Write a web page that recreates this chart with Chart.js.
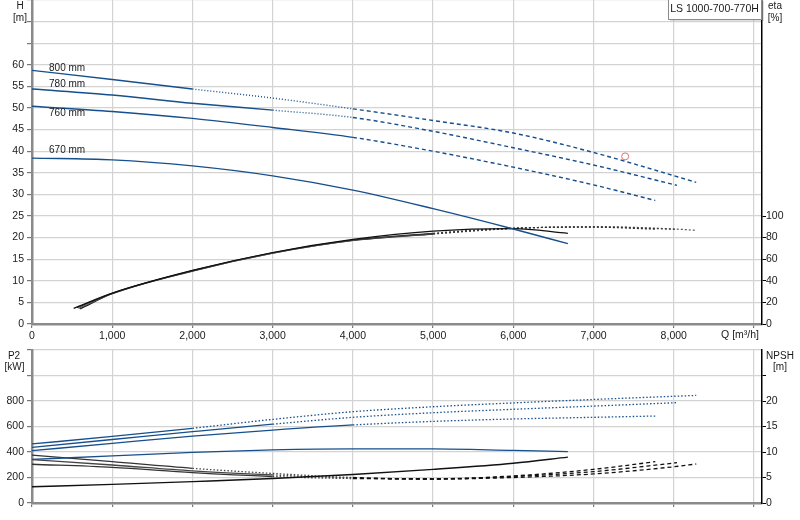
<!DOCTYPE html>
<html><head><meta charset="utf-8">
<script src="https://cdn.jsdelivr.net/npm/chart.js@4"></script>
<style>
html,body{margin:0;padding:0;background:#fff;}
#wrap{position:relative;width:800px;height:520px;overflow:hidden;background:#fff;}
#c1{position:absolute;left:0;top:-5px;}
#c2{position:absolute;left:0;top:340px;}
</style></head><body>
<div id="wrap"><canvas id="c1" width="800" height="350"></canvas><canvas id="c2" width="800" height="180"></canvas></div>
<script>
// ---------- data ----------
const qTicks = [0,1000,2000,3000,4000,5000,6000,7000,8000];
const qGrid = [0,1000,2000,3000,4000,5000,6000,7000,8000,9000];
const hTicks = [0,5,10,15,20,25,30,35,40,45,50,55,60];
const hGrid = [0,5,10,15,20,25,30,35,40,45,50,55,60,65,70,75];
const etaTicks = [0,20,40,60,80,100];
const p2Ticks = [0,200,400,600,800];
const p2Grid = [0,200,400,600,800,1000,1200];
const npshTicks = [0,5,10,15,20];
const npshGrid = [0,5,10,15,20,25];

const diameters = ['800 mm','780 mm','760 mm','670 mm'];
const labelH = [59.1,55.4,48.7,40.2];

// Head curves
const qH800 = [0,1000,2000,3000,4000,5000,6000,7000,8280];
const h800  = [58.7,56.6,54.4,52.3,49.8,47.1,44.2,39.7,32.8];
const qH780 = [0,1000,2000,3000,4000,5000,6000,7000,8040];
const h780  = [54.4,53.0,51.1,49.5,47.8,44.6,40.8,36.8,32.1];
const qH760 = [0,1000,2000,3000,4000,5000,6000,7000,7770];
const h760  = [50.4,49.2,47.6,45.5,43.2,40.0,36.3,32.2,28.6];
const qH670 = [0,1000,2000,3000,4000,5000,6000,6680];
const h670  = [38.4,38.0,36.6,34.3,31.0,26.7,22.0,18.6];

// Efficiency curves
const qE800 = [600,1000,2000,3000,4000,5000,6000,7000,8000,8280];
const eta800 = [14,28,49,65.5,77.3,83.3,88.4,90.1,88.0,86.7];
const qE780 = [580,1000,2000,3000,4000,5000,6000,7000,8040];
const eta780 = [14.5,28.2,49.2,65.7,77.5,83.5,88.6,90.0,87.6];
const qE760 = [560,1000,2000,3000,4000,5000,6000,7000,7770];
const eta760 = [15,28.4,49.4,66,77.8,84,88.8,89.6,87.8];
const qE670 = [520,1000,2000,3000,4000,5000,6000,6680];
const eta670 = [14.5,28.6,49.6,66.2,78.3,86,88.3,84];

// Operating point
const dutyQ = [7394];
const dutyH = [38.8];

// Power curves
const qP800 = [0,1000,2000,3000,4000,5000,6000,7000,8000,8280];
const p800  = [463,522,586,656,716,755,785,812,837,844];
const qP780 = [0,1000,2000,3000,4000,5000,6000,7000,8040];
const p780  = [437,498,559,618,672,708,735,760,787];
const qP760 = [0,1000,2000,3000,4000,5000,6000,7000,7770];
const p760  = [410,468,525,572,612,640,659,672,682];
const qP670 = [0,1000,2000,3000,4000,5000,6000,6680];
const p670  = [342,369,397,416,424,424,412,403];

// NPSH curves
const qN800 = [0,1000,2000,3000,4000,5000,6000,7000,8000,8280];
const n800  = [9.4,8.1,6.8,5.8,5.0,4.7,5.0,5.7,7.1,7.65];
const qN780 = [0,1000,2000,3000,4000,5000,6000,7000,8040];
const n780  = [8.5,7.45,6.3,5.5,4.9,4.7,5.2,6.15,7.9];
const qN760 = [0,1000,2000,3000,4000,5000,6000,7000,7770];
const n760  = [7.6,7.0,5.95,5.2,4.8,4.75,5.3,6.6,8.1];
const qN670 = [0,1000,2000,3000,4000,5000,6000,6680];
const n670  = [3.2,3.65,4.2,4.8,5.6,6.6,7.8,9.0];

// ---------- helpers ----------
const FONT = "'Liberation Sans', Arial, sans-serif";
const TXT = '#1a1a1a';
const BLUE = '#164f8c';
const BLACK = '#111111';
const GREY_LINE = '#8a8a8a';
const GRID = '#d3d3d3';
const TOP_SHIFT = 5; // canvas 1 is moved up by this many pixels

function pts(qs, vs){ return qs.map((q,i)=>({x:q,y:vs[i]})); }
function seg(stages){
  const pick = x => { for (const s of stages) if (x < s.to) return s; return stages[stages.length-1]; };
  return {
    borderDash: c => pick(c.p0.parsed.x).dash,
    borderColor: c => pick(c.p0.parsed.x).color
  };
}
function setTicks(values){ return s => { s.ticks = values.map(v => ({value:v})); }; }
function fixW(w){ return s => { s.width = w; s.paddingTop = 0; s.paddingBottom = 0; }; }
function fixH(h){ return s => { s.height = h; s.paddingLeft = 0; s.paddingRight = 0; }; }
const fmtQ = v => v.toLocaleString('en-US');
const tickFont = {family: FONT, size: 10.5};

function line(label, data, yAxisID, color, width, segment){
  return {label, data, yAxisID, borderColor: color, borderWidth: width, pointRadius: 0,
    fill: false, cubicInterpolationMode: 'monotone', segment};
}

// ---------- top chart ----------
const topDatasets = [
  line('H 800', pts(qH800,h800), 'yH', BLUE, 1.4, seg([
    {to:2000, dash:[], color:BLUE},{to:4000, dash:[1,2], color:BLUE},{to:1e9, dash:[4,3], color:BLUE}])),
  line('H 780', pts(qH780,h780), 'yH', BLUE, 1.4, seg([
    {to:3000, dash:[], color:BLUE},{to:4000, dash:[1,2], color:BLUE},{to:1e9, dash:[4,3], color:BLUE}])),
  line('H 760', pts(qH760,h760), 'yH', BLUE, 1.4, seg([
    {to:4000, dash:[], color:BLUE},{to:1e9, dash:[4,3], color:BLUE}])),
  line('H 670', pts(qH670,h670), 'yH', BLUE, 1.4),
  {label:'duty', data: pts(dutyQ,dutyH), yAxisID:'yH', showLine:false, pointRadius:3.5,
    pointBorderColor:'#e07070', pointBackgroundColor:'rgba(255,255,255,0)', pointBorderWidth:1},
  line('eta 670', pts(qE670,eta670), 'yEta', BLACK, 1.2),
  line('eta 760', pts(qE760,eta760), 'yEta', BLACK, 1.2, seg([
    {to:5000, dash:[], color:'#333'},{to:1e9, dash:[2,2], color:'#333'}])),
  line('eta 780', pts(qE780,eta780), 'yEta', BLACK, 1.2, seg([
    {to:5000, dash:[], color:'#555'},{to:1e9, dash:[2,2], color:'#444'}])),
  line('eta 800', pts(qE800,eta800), 'yEta', BLACK, 1.2, seg([
    {to:5000, dash:[], color:'#222'},{to:1e9, dash:[2,2], color:'#555'}]))
];

const topText = {
  id:'topText',
  afterDraw(chart){
    const c = chart.ctx, x = chart.scales.x, y = chart.scales.yH;
    c.save();
    c.fillStyle = TXT;
    c.font = '10px ' + FONT;
    c.textAlign = 'left'; c.textBaseline = 'middle';
    diameters.forEach((d,i) => c.fillText(d, x.getPixelForValue(212), y.getPixelForValue(labelH[i])));
    c.translate(0, TOP_SHIFT); // page coordinates below
    c.textAlign = 'center';
    c.fillText('H', 20, 6); c.fillText('[m]', 20, 18);
    c.fillText('eta', 775, 6); c.fillText('[%]', 775, 18);
    c.font = '10.5px ' + FONT;
    c.fillText('Q [m\u00B3/h]', 740, 335);
    // title box
    c.fillStyle = 'rgba(0,0,0,0.12)';
    c.fillRect(670, 1, 94, 20);
    c.fillStyle = '#fff';
    c.fillRect(668, -1, 93, 20);
    c.strokeStyle = '#8c8c8c'; c.lineWidth = 1;
    c.strokeRect(668.5, -0.5, 93, 20);
    c.fillStyle = TXT;
    c.font = '10.5px ' + FONT;
    c.fillText('LS 1000-700-770H', 714.5, 9);
    c.restore();
  }
};

new Chart(document.getElementById('c1'), {
  type: 'line',
  data: { datasets: topDatasets },
  options: {
    responsive:false, animation:false, maintainAspectRatio:false,
    layout:{padding:0},
    plugins:{legend:{display:false}, tooltip:{enabled:false}},
    scales:{
      x:{type:'linear', min:0, max:9100, afterBuildTicks:setTicks(qGrid), afterFit:fixH(21),
        ticks:{autoSkip:false, maxRotation:0, padding:2, color:TXT, font:tickFont,
          callback: v => qTicks.includes(v) ? fmtQ(v) : ''},
        grid:{color:GRID, lineWidth:1.2, tickLength:4, tickColor:'#777'},
        border:{color:GREY_LINE, width:2.5}},
      yH:{type:'linear', position:'left', min:0, max:75, afterBuildTicks:setTicks(hGrid), afterFit:fixW(32),
        ticks:{autoSkip:false, padding:3, color:TXT, font:tickFont,
          callback: v => hTicks.includes(v) ? String(v) : ''},
        grid:{color:GRID, lineWidth:1.2, tickLength:5, tickColor:'#777'},
        border:{color:GREY_LINE, width:2.5}},
      yEta:{type:'linear', position:'right', min:0, max:300, afterBuildTicks:setTicks(etaTicks), afterFit:fixW(38),
        ticks:{autoSkip:false, padding:0, color:TXT, font:tickFont, callback: v => String(v)},
        grid:{drawOnChartArea:false, tickLength:4, tickColor:'#000'},
        border:{color:'#000', width:1.5}}
    }
  },
  plugins:[topText]
});

// ---------- bottom chart ----------
const botDatasets = [
  line('P2 800', pts(qP800,p800), 'yP', BLUE, 1.3, seg([
    {to:2000, dash:[], color:BLUE},{to:1e9, dash:[1.5,2], color:BLUE}])),
  line('P2 780', pts(qP780,p780), 'yP', BLUE, 1.3, seg([
    {to:3000, dash:[], color:BLUE},{to:1e9, dash:[1.5,2], color:BLUE}])),
  line('P2 760', pts(qP760,p760), 'yP', BLUE, 1.3, seg([
    {to:4000, dash:[], color:BLUE},{to:1e9, dash:[1.5,2], color:BLUE}])),
  line('P2 670', pts(qP670,p670), 'yP', BLUE, 1.3),
  line('NPSH 670', pts(qN670,n670), 'yN', BLACK, 1.4),
  line('NPSH 800', pts(qN800,n800), 'yN', BLACK, 1.3, seg([
    {to:2000, dash:[], color:'#333'},{to:4000, dash:[1.5,2], color:'#444'},{to:1e9, dash:[4,3], color:'#111'}])),
  line('NPSH 780', pts(qN780,n780), 'yN', BLACK, 1.3, seg([
    {to:3000, dash:[], color:'#444'},{to:4000, dash:[1.5,2], color:'#444'},{to:1e9, dash:[4,3], color:'#111'}])),
  line('NPSH 760', pts(qN760,n760), 'yN', BLACK, 1.3, seg([
    {to:3000, dash:[], color:'#333'},{to:4000, dash:[1.5,2], color:'#444'},{to:1e9, dash:[4,3], color:'#111'}]))
];

const botText = {
  id:'botText',
  afterDraw(chart){
    const c = chart.ctx;
    c.save();
    c.fillStyle = TXT;
    c.font = '10px ' + FONT;
    c.textAlign = 'center'; c.textBaseline = 'middle';
    c.fillText('P2', 14, 16); c.fillText('[kW]', 14.5, 27);
    c.fillText('NPSH', 780, 16); c.fillText('[m]', 780, 27);
    c.restore();
  }
};

new Chart(document.getElementById('c2'), {
  type: 'line',
  data: { datasets: botDatasets },
  options: {
    responsive:false, animation:false, maintainAspectRatio:false,
    layout:{padding:{top:10, left:0, right:0, bottom:0}},
    plugins:{legend:{display:false}, tooltip:{enabled:false}},
    scales:{
      x:{type:'linear', min:0, max:9100, afterBuildTicks:setTicks(qGrid), afterFit:fixH(17),
        ticks:{display:false},
        grid:{color:GRID, lineWidth:1.2, tickLength:4, tickColor:'#777'},
        border:{color:GREY_LINE, width:2.5}},
      yP:{type:'linear', position:'left', min:0, max:1200, afterBuildTicks:setTicks(p2Grid), afterFit:fixW(32),
        ticks:{autoSkip:false, padding:3, color:TXT, font:tickFont,
          callback: v => p2Ticks.includes(v) ? String(v) : ''},
        grid:{color:GRID, lineWidth:1.2, tickLength:5, tickColor:'#777'},
        border:{color:GREY_LINE, width:2.5}},
      yN:{type:'linear', position:'right', min:0, max:30, afterBuildTicks:setTicks(npshGrid), afterFit:fixW(38),
        ticks:{autoSkip:false, padding:0, color:TXT, font:tickFont,
          callback: v => npshTicks.includes(v) ? String(v) : ''},
        grid:{drawOnChartArea:false, tickLength:4, tickColor:'#000'},
        border:{color:'#000', width:1.5}}
    }
  },
  plugins:[botText]
});
</script>
</body></html>
